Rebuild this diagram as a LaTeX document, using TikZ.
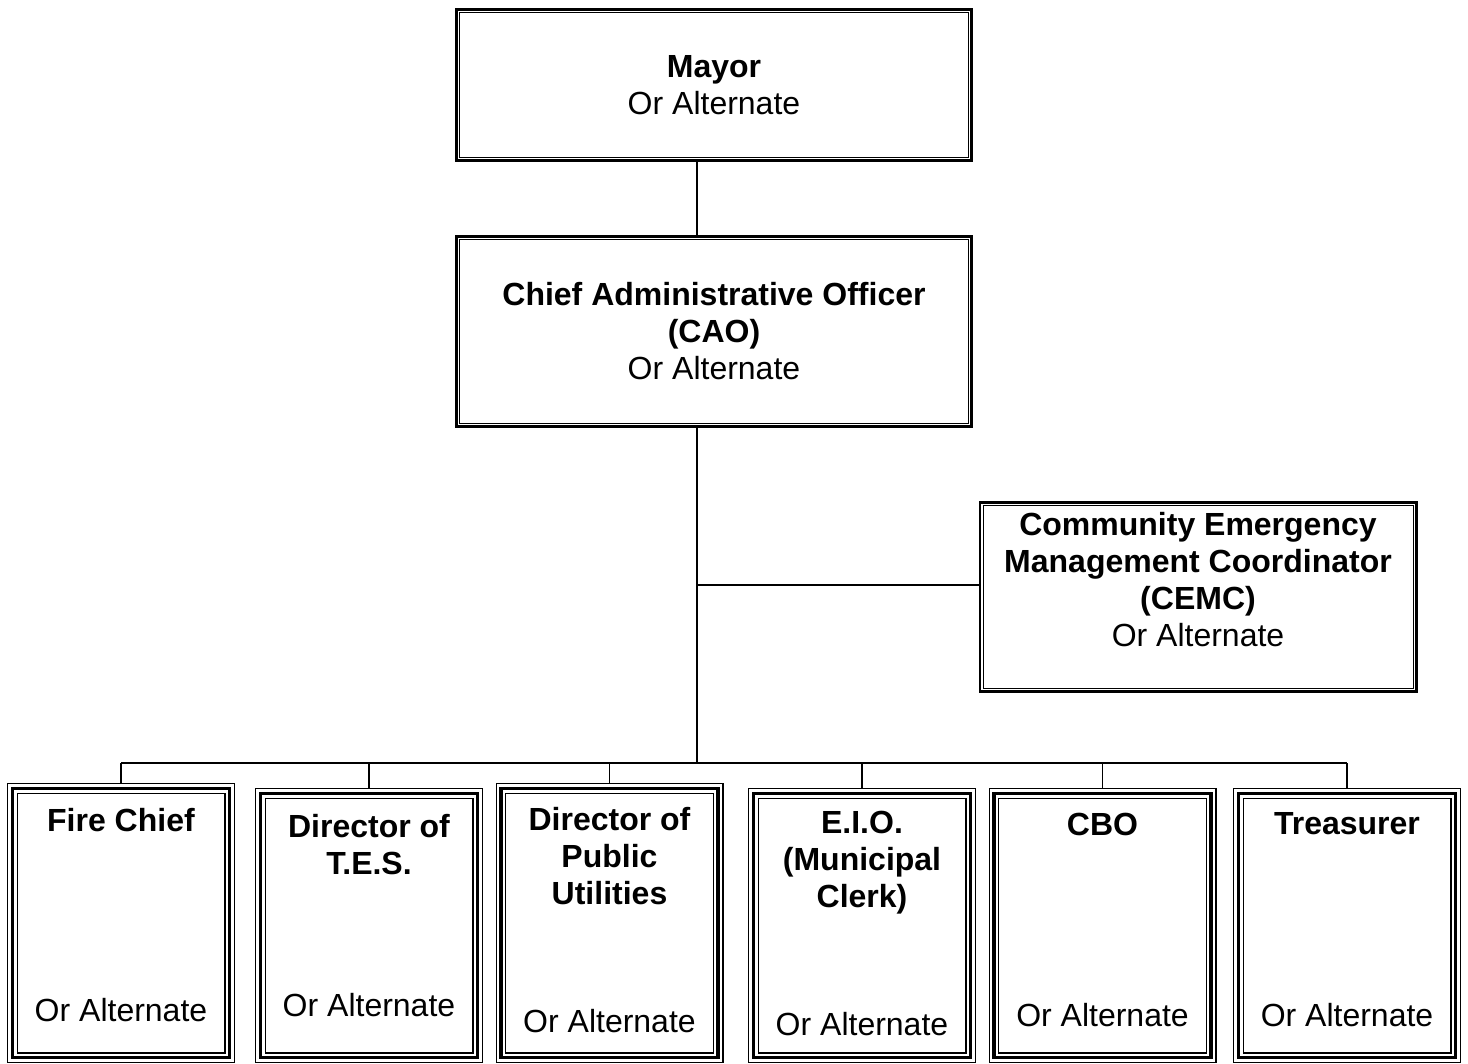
\documentclass[tikz,border=0pt]{standalone}
\usepackage{fontspec}
\setmainfont{Liberation Sans}
\usetikzlibrary{positioning}

\begin{document}
\begin{tikzpicture}[x=0.5pt, y=-0.5pt,
  every node/.style={font=\fontsize{16}{18.5}\selectfont, align=center},
  topbox/.style={draw, line width=1.4pt, minimum width=257.6pt},
  lowbox/.style={draw, line width=1.8pt, outer sep=2.7pt,
    minimum width=108.6pt, minimum height=132.1pt,
    preaction={draw, line width=5.4pt},
    preaction={draw=white, line width=4.1pt}},
  link/.style={line width=0.6pt}]
  \useasboundingbox (0,0) rectangle (1468,1064);
  % top of the chart
  \node[topbox, minimum height=75.6pt] (mayor) at (714,85)
    {\textbf{Mayor}\\Or Alternate};
  \node[topbox, minimum height=95.1pt] (cao) at (714,331.5)
    {\textbf{Chief Administrative Officer}\\\textbf{(CAO)}\\Or Alternate};
  \node[topbox, minimum width=218.1pt, minimum height=94.6pt] (cemc) at (1198,597) {};
  \node (cemcT) at (1198,580)
    {\textbf{Community Emergency}\\\textbf{Management Coordinator}\\\textbf{(CEMC)}\\Or Alternate};
  \foreach \b in {mayor,cao,cemc}
    \draw[line width=0.5pt] ([shift={(2.25pt,-2.25pt)}]\b.north west)
      rectangle ([shift={(-2.25pt,2.25pt)}]\b.south east);
  % bottom row
  \node[lowbox, minimum height=134.6pt] (fire) at (121,923) {};
  \node[lowbox] (tes) at (369,925.5) {};
  \node[lowbox, minimum height=134.6pt] (util) at (609.5,923) {};
  \node[lowbox] (eio) at (862,925.5) {};
  \node[lowbox] (cbo) at (1102.5,925.5) {};
  \node[lowbox] (treas) at (1347,925.5) {};
  \node (fireT) at (121,820) {\textbf{Fire Chief}};
  \node (fireA) at (121,1010) {Or Alternate};
  \node (tesT) at (369,845) {\textbf{Director of}\\\textbf{T.E.S.}};
  \node (tesA) at (369,1005) {Or Alternate};
  \node (utilT) at (609.5,856.5) {\textbf{Director of}\\\textbf{Public}\\\textbf{Utilities}};
  \node (utilA) at (609.5,1021) {Or Alternate};
  \node (eioT) at (862,863) {\textbf{E.I.O.}\\\textbf{(Municipal}\\\textbf{Clerk)}};
  \node (eioA) at (862,1024) {Or Alternate};
  \node (cboT) at (1102.5,824) {\textbf{CBO}};
  \node (cboA) at (1102.5,1015) {Or Alternate};
  \node (treasT) at (1347,824) {\textbf{Treasurer}};
  \node (treasA) at (1347,1015) {Or Alternate};
  % connectors
  \coordinate (trunk) at (697,763);
  \coordinate (tap) at (697,585);
  \draw[link] (mayor.south -| trunk) -- (cao.north -| trunk);
  \draw[link] (cao.south -| trunk) -- (trunk);
  \draw[link] (tap) -- (tap -| cemc.west);
  \draw[link] (fire.north |- trunk) -- (treas.north |- trunk);
  \foreach \b in {fire,tes,util,eio,cbo,treas}
    \draw[link] (\b.north |- trunk) -- (\b.north);
\end{tikzpicture}
\end{document}
